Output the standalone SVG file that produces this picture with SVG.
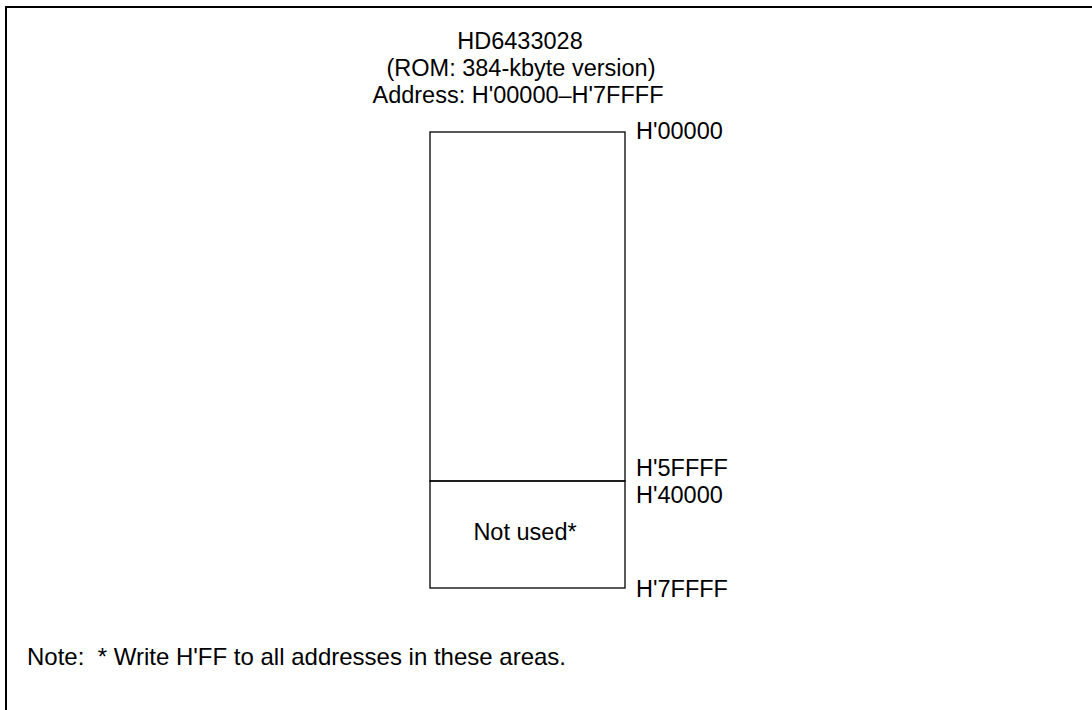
<svg xmlns="http://www.w3.org/2000/svg" width="1092" height="710" viewBox="0 0 1092 710">
<style>
text{font-family:"Liberation Sans",Arial,sans-serif;font-size:23.5px;fill:#000}
.c{text-anchor:middle}
.box{fill:none;stroke:#000;stroke-width:1.3}
.frame{fill:none;stroke:#000;stroke-width:2}
</style>
<rect x="0" y="0" width="1092" height="710" fill="#fff"/>
<path class="frame" d="M6,710 V7 H1092"/>
<g id="title">
<text class="c" x="520" y="49">HD6433028</text>
<text class="c" x="521" y="76">(ROM: 384-kbyte version)</text>
<text class="c" x="518" y="103">Address: H'00000–H'7FFFF</text>
</g>
<g id="rom">
<rect class="box" x="430" y="132" width="195" height="349"/>
</g>
<g id="notused">
<rect class="box" x="430" y="481" width="195" height="107"/>
<text class="c" x="525" y="540">Not used*</text>
</g>
<g id="labels">
<text x="636" y="139">H'00000</text>
<text x="636" y="476">H'5FFFF</text>
<text x="636" y="503">H'40000</text>
<text x="636" y="597">H'7FFFF</text>
</g>
<g id="connectors"></g>
<text x="27" y="665" xml:space="preserve" style="font-size:24px">Note:  * Write H'FF to all addresses in these areas.</text>
</svg>
